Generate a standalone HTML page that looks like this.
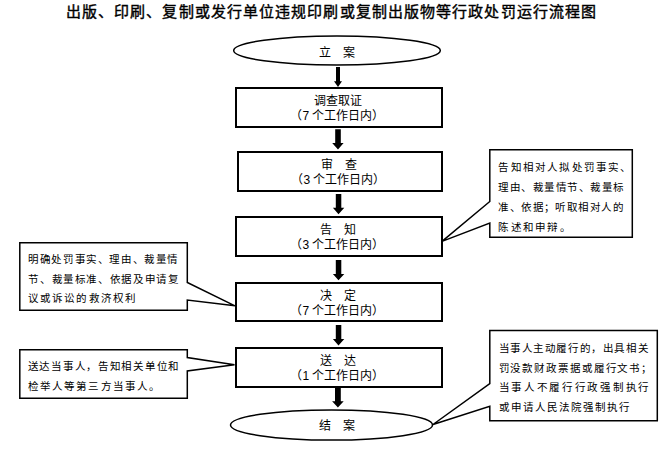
<!DOCTYPE html>
<html lang="zh-CN"><head><meta charset="utf-8">
<style>
html,body{margin:0;padding:0;background:#fff;}
body{width:667px;height:451px;position:relative;overflow:hidden;font-family:"Liberation Sans",sans-serif;color:#000;}
svg{position:absolute;left:0;top:0;}
.t{position:absolute;white-space:nowrap;line-height:15px;font-size:12px;text-align:center;left:237px;width:203px;}
.title{position:absolute;left:0;width:663px;top:2px;text-align:center;font-size:15px;letter-spacing:1.1px;font-weight:normal;-webkit-text-stroke:0.4px #000;line-height:20px;white-space:nowrap;}
.c{position:absolute;white-space:nowrap;font-size:10.5px;line-height:20px;height:20px;color:#000;}
.f{display:flex;justify-content:space-between;}
.f span{display:block;width:0;overflow:visible;}
</style></head><body>
<svg width="667" height="451" viewBox="0 0 667 451">
 <g fill="none" stroke="#000">
  <ellipse cx="337" cy="50.5" rx="103.3" ry="14.5" stroke-width="1.5"/>
  <rect x="236" y="88" width="206" height="39" stroke-width="2"/>
  <rect x="238" y="152" width="204" height="39" stroke-width="2"/>
  <rect x="236" y="217" width="206" height="39" stroke-width="2"/>
  <rect x="236" y="283" width="206" height="38" stroke-width="2"/>
  <rect x="236" y="348" width="206" height="39" stroke-width="2"/>
  <ellipse cx="331.5" cy="425" rx="101" ry="15.1" stroke-width="1.5"/>
  <polygon points="489.8,149.8 632.3,149.8 632.3,237.3 489.8,237.3 489.8,223 442,241.4 489.8,201.5" stroke-width="1.5"/>
  <polygon points="19.8,242.8 187.3,242.8 187.3,282.5 235,305.8 187.3,300 187.3,310.3 19.8,310.3" stroke-width="1.5"/>
  <polygon points="19.8,349.8 187.3,349.8 187.3,357.5 234.5,364.7 187.3,371 187.3,398.3 19.8,398.3" stroke-width="1.5"/>
  <polygon points="489.8,330.5 657.3,330.5 657.3,420.8 489.8,420.8 489.8,406.3 433,424.5 489.8,383.5" stroke-width="1.5"/>
 </g>
 <g fill="#000">
  <polygon points="336,67 340,67 340,81.2 342,81.2 338,87 334,81.2 336,81.2"/>
  <polygon points="335.2,129.3 340.8,129.3 340.8,143 343.6,143 338,149.5 332.2,143 335.2,143"/>
  <polygon points="335.8,194 341.3,194 341.3,207.8 344.3,207.8 338.5,214.2 332.9,207.8 335.8,207.8"/>
  <polygon points="335.8,260 341.3,260 341.3,274 344.3,274 338.5,280.2 332.9,274 335.8,274"/>
  <polygon points="335.8,325 341.3,325 341.3,339 344.3,339 338.5,345.5 332.9,339 335.8,339"/>
  <polygon points="335,388 340.8,388 340.8,401.3 343.7,401.3 337.9,407.5 332.1,401.3 335,401.3"/>
 </g>
</svg>
<div class="title">出版、印刷、复制或发行单位违规印刷或复制出版物等行政处罚运行流程图</div>
<div class="t" style="left:235px;top:46px;">立　案</div>
<div class="t" style="left:236px;top:94px;">调查取证<br>（7 个工作日内）</div>
<div class="t" style="top:158px;">审　查<br>（3 个工作日内）</div>
<div class="t" style="left:236px;top:223px;">告　知<br>（3 个工作日内）</div>
<div class="t" style="left:236px;top:289px;">决　定<br>（7 个工作日内）</div>
<div class="t" style="left:236px;top:354px;">送　达<br>（1 个工作日内）</div>
<div class="t" style="left:235px;top:419px;">结　案</div>
<div class="c f" style="left:498.3px;top:157px;width:122.3px;"><span>告</span><span>知</span><span>相</span><span>对</span><span>人</span><span>拟</span><span>处</span><span>罚</span><span>事</span><span>实</span><span>、</span></div>
<div class="c f" style="left:498.3px;top:177px;width:114.7px;"><span>理</span><span>由</span><span>、</span><span>裁</span><span>量</span><span>情</span><span>节</span><span>、</span><span>裁</span><span>量</span><span>标</span></div>
<div class="c f" style="left:498.3px;top:197px;width:114.3px;"><span>准</span><span>、</span><span>依</span><span>据</span><span>；</span><span>听</span><span>取</span><span>相</span><span>对</span><span>人</span><span>的</span></div>
<div class="c" style="left:498.3px;top:217px;letter-spacing:2.25px;">陈述和申辩。</div>
<div class="c f" style="left:28.2px;top:249px;width:139.2px;"><span>明</span><span>确</span><span>处</span><span>罚</span><span>事</span><span>实</span><span>、</span><span>理</span><span>由</span><span>、</span><span>裁</span><span>量</span><span>情</span></div>
<div class="c f" style="left:28.2px;top:269px;width:140px;"><span>节</span><span>、</span><span>裁</span><span>量</span><span>标</span><span>准</span><span>、</span><span>依</span><span>据</span><span>及</span><span>申</span><span>请</span><span>复</span></div>
<div class="c" style="left:28.2px;top:288px;letter-spacing:2.07px;">议或诉讼的救济权利</div>
<div class="c f" style="left:27.7px;top:356px;width:140.8px;"><span>送</span><span>达</span><span>当</span><span>事</span><span>人</span><span>，</span><span>告</span><span>知</span><span>相</span><span>关</span><span>单</span><span>位</span><span>和</span></div>
<div class="c" style="left:27.7px;top:376px;letter-spacing:2.15px;">检举人等第三方当事人。</div>
<div class="c f" style="left:498.5px;top:338px;width:139.3px;"><span>当</span><span>事</span><span>人</span><span>主</span><span>动</span><span>履</span><span>行</span><span>的</span><span>，</span><span>出</span><span>具</span><span>相</span><span>关</span></div>
<div class="c f" style="left:498.5px;top:358px;width:142.7px;"><span>罚</span><span>没</span><span>款</span><span>财</span><span>政</span><span>票</span><span>据</span><span>或</span><span>履</span><span>行</span><span>文</span><span>书</span><span>；</span></div>
<div class="c f" style="left:498.5px;top:377px;width:139.9px;"><span>当</span><span>事</span><span>人</span><span>不</span><span>履</span><span>行</span><span>行</span><span>政</span><span>强</span><span>制</span><span>执</span><span>行</span></div>
<div class="c" style="left:498.5px;top:397px;letter-spacing:2.0px;">或申请人民法院强制执行</div>
</body></html>
